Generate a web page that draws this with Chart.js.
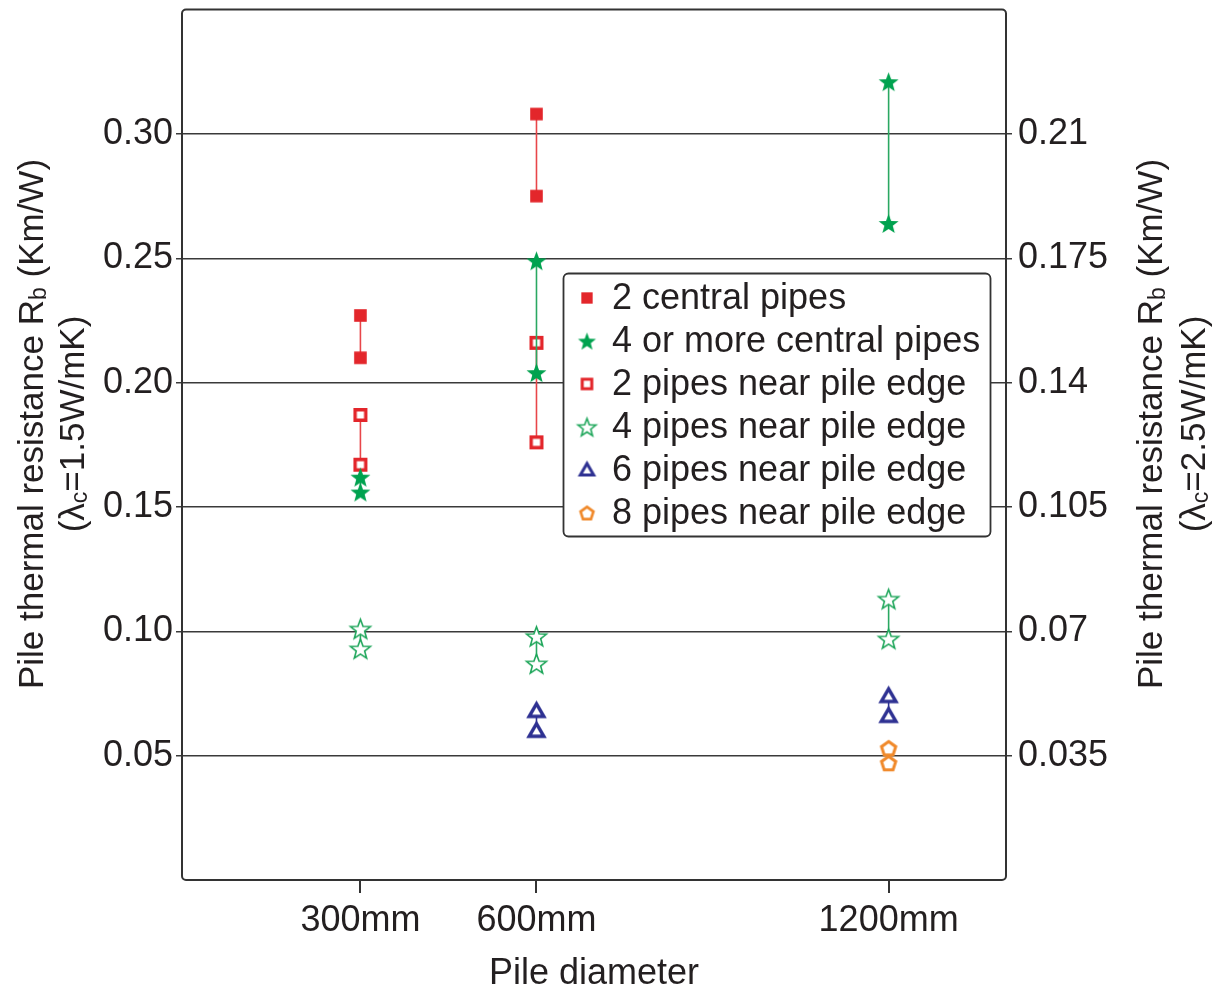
<!DOCTYPE html>
<html>
<head>
<meta charset="utf-8">
<title>Pile thermal resistance</title>
<script src="https://cdn.jsdelivr.net/npm/chart.js@4/dist/chart.umd.min.js"></script>
<style>
  html, body { margin: 0; padding: 0; background: #fff; }
  #wrap { width: 1215px; height: 993px; }
</style>
</head>
<body>
<div id="wrap"><canvas id="pileChart" width="1215" height="993"></canvas></div>
<script>
// Pile diameters (mm) on the x axis
const diameters = [300, 600, 1200];

// Rb values (Km/W, lambda_c = 1.5) as [upper, lower] pairs per diameter
const central2Pipes = [[0.227, 0.210], [0.308, 0.275], []];
const central4Pipes = [[0.162, 0.156], [0.249, 0.204], [0.321, 0.264]];
const edge2Pipes = [[0.187, 0.167], [0.216, 0.176], []];
const edge4Pipes = [[0.101, 0.093], [0.098, 0.087], [0.113, 0.097]];
const edge6Pipes = [[], [0.068, 0.060], [0.074, 0.066]];
const edge8Pipes = [[], [], [0.053, 0.047]];

const seriesNames = [
  '2 central pipes',
  '4 or more central pipes',
  '2 pipes near pile edge',
  '4 pipes near pile edge',
  '6 pipes near pile edge',
  '8 pipes near pile edge'
];

// tick labels
const leftTicks = [0.05, 0.10, 0.15, 0.20, 0.25, 0.30];
const rightTicks = [0.035, 0.07, 0.105, 0.14, 0.175, 0.21];

const TEXT = '#231f20';
const FONT = "'Liberation Sans', Arial, sans-serif";

// marker images
function makeMarker(shape, R, fill, stroke, lw) {
  const size = Math.ceil(2 * R + lw + 4);
  const c = document.createElement('canvas');
  c.width = c.height = size;
  const g = c.getContext('2d');
  const m = size / 2;
  g.beginPath();
  if (shape === 'square') {
    g.rect(m - R, m - R, 2 * R, 2 * R);
  } else if (shape === 'star') {
    for (let k = 0; k < 10; k++) {
      const a = -Math.PI / 2 + k * Math.PI / 5;
      const r = k % 2 ? R * 0.42 : R;
      g.lineTo(m + r * Math.cos(a), m + 1 + r * Math.sin(a));
    }
  } else if (shape === 'triangle') {
    for (let k = 0; k < 3; k++) {
      const a = -Math.PI / 2 + k * 2 * Math.PI / 3;
      g.lineTo(m + R * Math.cos(a), m + R * 0.15 + R * Math.sin(a));
    }
  } else if (shape === 'pentagon') {
    for (let k = 0; k < 5; k++) {
      const a = -Math.PI / 2 + k * 2 * Math.PI / 5;
      g.lineTo(m + R * Math.cos(a), m + R * 0.1 + R * Math.sin(a));
    }
  }
  g.closePath();
  if (fill) { g.fillStyle = fill; g.fill(); }
  if (stroke) { g.strokeStyle = stroke; g.lineWidth = lw; g.lineJoin = 'miter'; g.stroke(); }
  return c;
}

const RED = '#e3262b', GREEN = '#00a24f', LGREEN = '#1ea65a', BLUE = '#2e3192', ORANGE = '#f0892a';

function markerSet(k) {
  return [
    makeMarker('square', 6.3 * k, RED, null, 0),
    makeMarker('star', 10.5 * k, GREEN, null, 0),
    makeMarker('square', 5.3 * k, '#fff', RED, 3.4 * k),
    makeMarker('star', 10.5 * k, '#fff', LGREEN, 1.6),
    makeMarker('triangle', 8.5 * k, '#fff', BLUE, 3.4 * k),
    makeMarker('pentagon', 7.5 * k, '#fff', ORANGE, 3 * k)
  ];
}
const chartMarkers = markerSet(1);
const legendMarkers = markerSet(0.9);
const lineColors = ['#e8464a', '#2aa862', '#e8464a', '#2aa862', BLUE, ORANGE];

// pairs at each diameter joined by a short vertical line, broken by null
function pairsToPoints(pairs) {
  const pts = [];
  pairs.forEach((p, i) => {
    if (!p.length) return;
    p.forEach(v => pts.push({ x: diameters[i], y: v }));
    pts.push({ x: diameters[i], y: null });
  });
  return pts;
}

const allSeries = [central2Pipes, central4Pipes, edge2Pipes, edge4Pipes, edge6Pipes, edge8Pipes];

const datasets = allSeries.map((s, i) => ({
  label: seriesNames[i],
  data: pairsToPoints(s),
  showLine: true,
  spanGaps: false,
  borderColor: lineColors[i],
  borderWidth: 1.6,
  pointStyle: chartMarkers[i],
  pointRadius: 8,
  pointHoverRadius: 8
}));

function drawRich(ctx, x, y, parts, size) {
  ctx.save();
  ctx.translate(x, y);
  ctx.rotate(-Math.PI / 2);
  ctx.fillStyle = TEXT;
  ctx.textBaseline = 'middle';
  ctx.textAlign = 'left';
  let total = 0;
  parts.forEach(p => {
    ctx.font = (p.sub ? Math.round(size * 0.65) : size) + 'px ' + FONT;
    p.w = ctx.measureText(p.t).width;
    total += p.w;
  });
  let cx = -total / 2;
  parts.forEach(p => {
    ctx.font = (p.sub ? Math.round(size * 0.65) : size) + 'px ' + FONT;
    ctx.fillText(p.t, cx, p.sub ? size * 0.2 : 0);
    cx += p.w;
  });
  ctx.restore();
}

const decorations = {
  id: 'decorations',
  afterDatasetsDraw(chart) {
    // legend box
    const ctx = chart.ctx;
    ctx.save();
    ctx.beginPath();
    ctx.roundRect(563.5, 273.5, 427, 263, 5);
    ctx.fillStyle = '#fff';
    ctx.fill();
    ctx.lineWidth = 1.8;
    ctx.strokeStyle = '#333';
    ctx.stroke();
    ctx.font = '36px ' + FONT;
    ctx.fillStyle = TEXT;
    ctx.textBaseline = 'middle';
    ctx.textAlign = 'left';
    chart.data.datasets.forEach((ds, i) => {
      const y = 298 + i * 43;
      const img = legendMarkers[i];
      ctx.drawImage(img, 587 - img.width / 2, y - img.height / 2);
      ctx.fillText(ds.label, 612, y + 1);
    });
    ctx.restore();
  },
  afterDraw(chart) {
    const ctx = chart.ctx;
    const a = chart.chartArea;
    ctx.save();
    ctx.beginPath();
    ctx.roundRect(a.left, a.top, a.right - a.left, a.bottom - a.top, 4);
    ctx.lineWidth = 2;
    ctx.strokeStyle = '#333';
    ctx.stroke();
    ctx.restore();

    drawRich(ctx, 33, 424, [{ t: 'Pile thermal resistance R' }, { t: 'b', sub: true }, { t: ' (Km/W)' }], 35);
    drawRich(ctx, 74, 424, [{ t: '(λ' }, { t: 'c', sub: true }, { t: '=1.5W/mK)' }], 35);
    drawRich(ctx, 1152, 424, [{ t: 'Pile thermal resistance R' }, { t: 'b', sub: true }, { t: ' (Km/W)' }], 35);
    drawRich(ctx, 1195, 424, [{ t: '(λ' }, { t: 'c', sub: true }, { t: '=2.5W/mK)' }], 35);
  }
};

function fixVertical(width) {
  return s => {
    s.width = width;
    s.paddingTop = 0;
    s.paddingBottom = 0;
  };
}

new Chart(document.getElementById('pileChart'), {
  type: 'scatter',
  data: { datasets },
  options: {
    responsive: false,
    animation: false,
    layout: { padding: { top: 8, left: 0, right: 0, bottom: 0 } },
    plugins: { legend: { display: false }, tooltip: { enabled: false } },
    scales: {
      x: {
        type: 'linear',
        min: -4,
        max: 1400,
        afterBuildTicks: s => { s.ticks = diameters.map(v => ({ value: v })); },
        afterFit: s => { s.height = 113; s.paddingLeft = 0; s.paddingRight = 0; },
        border: { display: false },
        grid: { drawOnChartArea: false, drawTicks: true, tickLength: 13, lineWidth: 2, color: '#333' },
        ticks: {
          padding: 6,
          color: TEXT,
          font: { family: FONT, size: 36 },
          callback: v => v + 'mm'
        },
        title: {
          display: true,
          text: 'Pile diameter',
          color: TEXT,
          font: { family: FONT, size: 36, lineHeight: 1 },
          padding: { top: 0, bottom: 1 }
        }
      },
      y: {
        type: 'linear',
        position: 'left',
        min: 0,
        max: 0.35,
        afterBuildTicks: s => { s.ticks = leftTicks.map(v => ({ value: v })); },
        afterFit: fixVertical(182),
        border: { display: false },
        grid: { drawOnChartArea: true, drawTicks: true, tickLength: 6, lineWidth: 1.5, color: '#3a3a3a' },
        ticks: {
          padding: 3,
          color: TEXT,
          font: { family: FONT, size: 36 },
          callback: v => v.toFixed(2)
        }
      },
      y2: {
        type: 'linear',
        position: 'right',
        min: 0,
        max: 0.35 * 0.7,
        afterBuildTicks: s => { s.ticks = rightTicks.map(v => ({ value: v })); },
        afterFit: fixVertical(209),
        border: { display: false },
        grid: { drawOnChartArea: false, drawTicks: true, tickLength: 6, lineWidth: 1.5, color: '#3a3a3a' },
        ticks: {
          padding: 6,
          color: TEXT,
          font: { family: FONT, size: 36 },
          callback: v => String(Number(v.toFixed(3)))
        }
      }
    }
  },
  plugins: [decorations]
});
</script>
</body>
</html>
